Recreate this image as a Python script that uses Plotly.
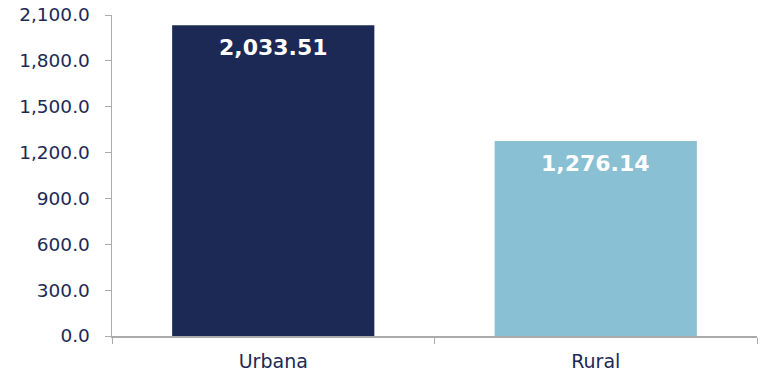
import plotly.graph_objects as go

categories = ["Urbana", "Rural"]
values = [2033.51, 1276.14]
colors = ["#1C2955", "#89C0D4"]
tick_vals = [0, 300, 600, 900, 1200, 1500, 1800, 2100]

FONT = "DejaVu Sans"

fig = go.Figure(go.Bar(
    x=categories, y=values,
    marker=dict(color=colors, line=dict(width=0)),
    cliponaxis=False,
    hoverinfo="skip",
))

for c, v in zip(categories, values):
    fig.add_annotation(
        x=c, y=v, text=f"{v:,.2f}", showarrow=False,
        yanchor="top", yshift=-8,
        font=dict(color="white", size=22, family=FONT, weight="bold"),
    )

axis_color = "#ABABAB"
text_color = "#1C2955"

fig.update_layout(
    width=765, height=377,
    margin=dict(l=112, r=8, t=15, b=41),
    plot_bgcolor="white", paper_bgcolor="white",
    bargap=0.373,
    showlegend=False,
    font=dict(family=FONT, color=text_color),
)
fig.update_xaxes(
    showline=True, linecolor=axis_color, linewidth=1.5,
    ticks="outside", tickson="boundaries", ticklen=6, tickcolor=axis_color,
    tickfont=dict(size=19, color=text_color),
    ticklabelstandoff=8, automargin=False,
    showgrid=False,
)
fig.update_yaxes(
    range=[0, 2100], tickvals=tick_vals, tickformat=",.1f",
    showline=True, linecolor=axis_color, linewidth=1.5,
    ticks="outside", ticklen=6, tickcolor=axis_color,
    tickfont=dict(size=18.5, color=text_color),
    ticklabelstandoff=11, ticklabeloverflow="allow", automargin=False,
    showgrid=False, zeroline=False,
)

fig.write_html(
    "out.html",
    config={"displayModeBar": False, "staticPlot": True},
    post_script="document.body.style.margin='0';document.body.style.overflow='hidden';",
)
